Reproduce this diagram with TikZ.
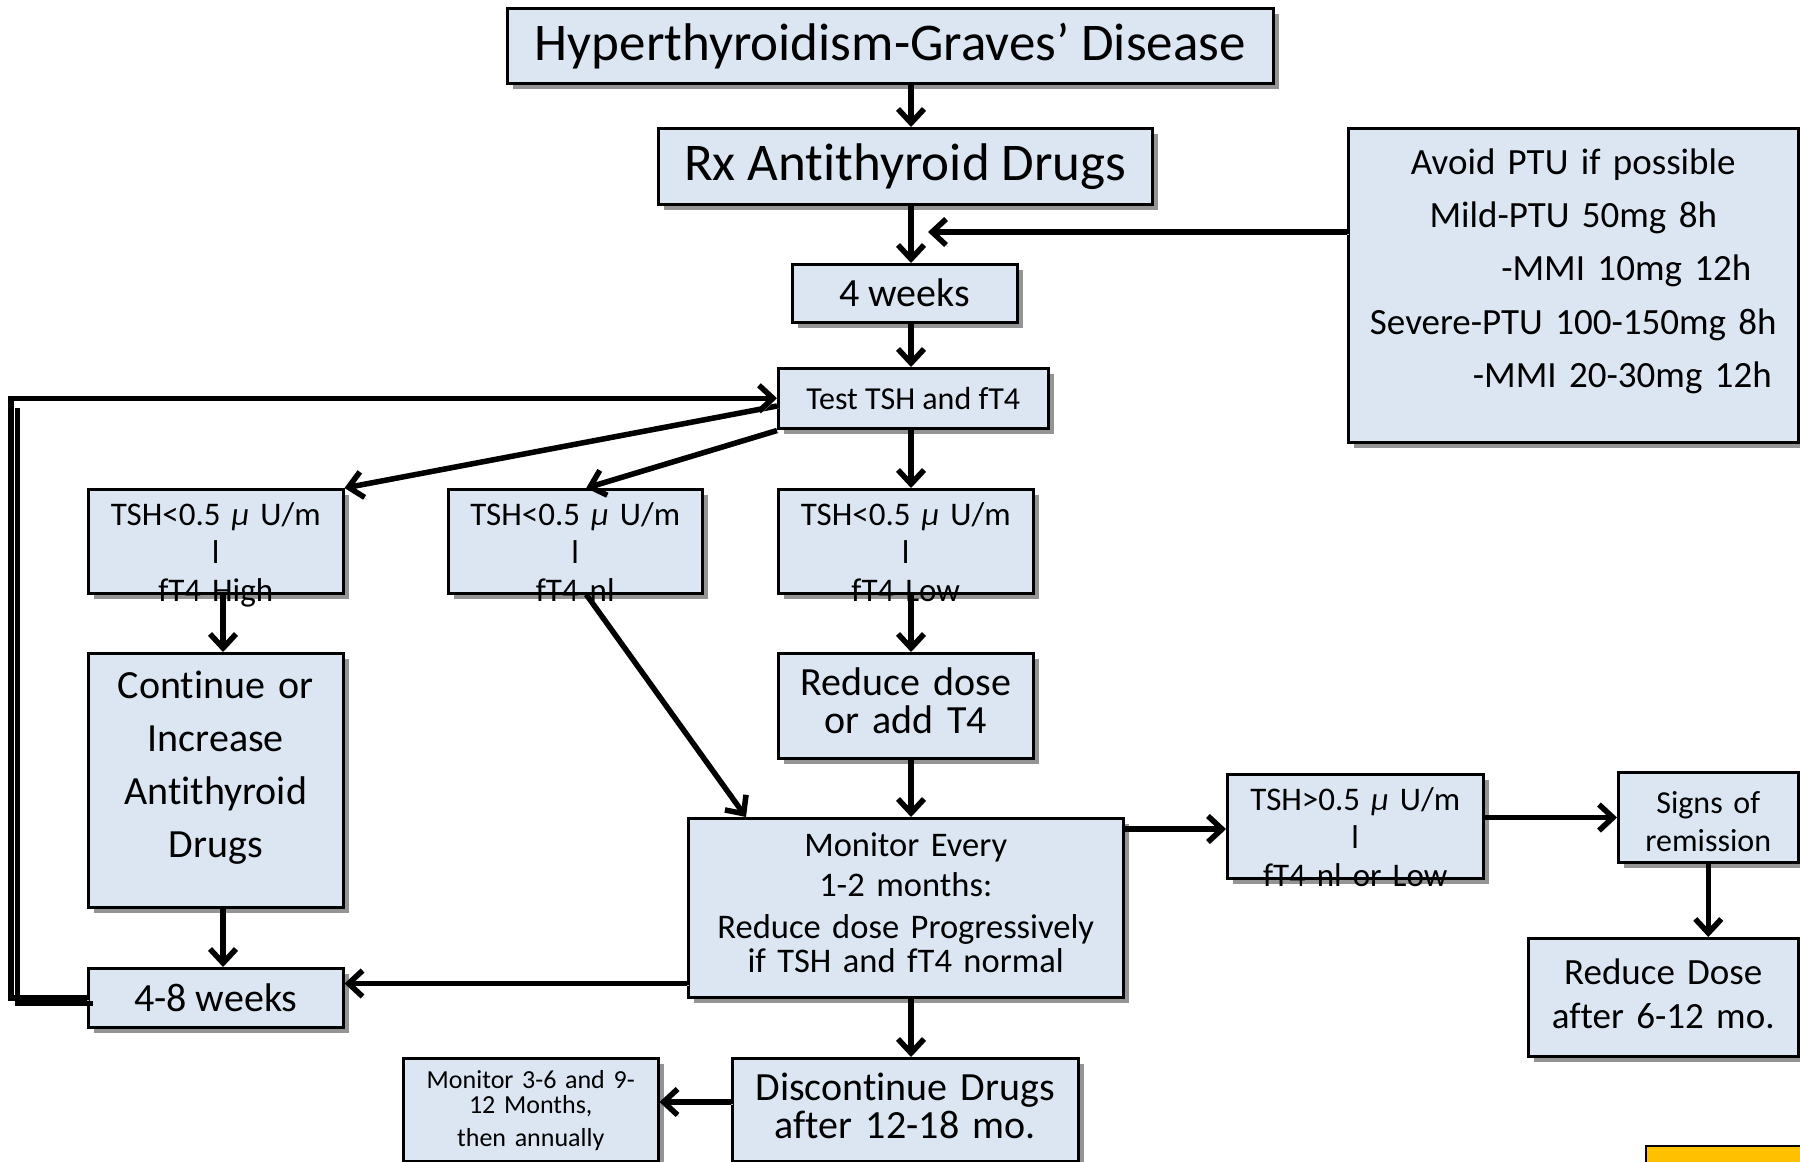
\documentclass[tikz,border=0pt]{standalone}
\usepackage{fontspec}
\setmainfont{Carlito}[Ligatures=CommonOff]
\usetikzlibrary{arrows.meta,shadows,calc}
\definecolor{boxfill}{HTML}{DCE6F2}
\definecolor{yel}{HTML}{FFC000}
\newcommand{\myfs}[2]{\fontsize{#1}{#2}\selectfont}
\begin{document}
\begin{tikzpicture}[x=1pt,y=-1pt,
  bx/.style={draw=black, line width=2.5pt, fill=boxfill, inner sep=0pt, anchor=north west, align=center,
    drop shadow={shadow xshift=6pt, shadow yshift=-6pt, fill=black!42, opacity=1}},
  conn/.style={line width=5.5pt, -{Straight Barb[length=14pt,width=26pt]},
    preaction={draw=black!30, transform canvas={shift={(2pt,-2pt)}}}},
  plainline/.style={line width=5.5pt}
]
\useasboundingbox (0,0) rectangle (1800,1162);

\node[bx, minimum width=766pt, minimum height=75pt, font=\myfs{53}{60}] (title) at (506,7) {Hyperthyroidism-Graves’ Disease};
\node[bx, minimum width=494pt, minimum height=76pt, font=\myfs{53}{60}] (rx) at (657,127) {Rx Antithyroid Drugs};
\node[bx, minimum width=225pt, minimum height=58pt, font=\myfs{40}{46}] (w4) at (791,263) {4 weeks};
\node[bx, minimum width=270pt, minimum height=60pt, font=\myfs{32}{38}] (test) at (777,367) {Test TSH and fT4};
\node[bx, text width=450pt, text height=46pt, text depth=268pt, font=\myfs{37}{53.3}] (avoid) at (1347,127)
  {Avoid PTU if possible\\ Mild-PTU 50mg 8h\\ \hspace*{106pt}-MMI 10mg 12h\\ Severe-PTU 100-150mg 8h\\ \hspace*{98pt}-MMI 20-30mg 12h};

\node[bx, text width=255pt, text height=36pt, text depth=68pt, font=\myfs{33}{38}] (box1) at (87,488)
  {TSH<0.5 \textit{μ} U/m\\ l\\ fT4 High};
\node[bx, text width=254pt, text height=36pt, text depth=68pt, font=\myfs{33}{38}] (box2) at (447,488)
  {TSH<0.5 \textit{μ} U/m\\ l\\ fT4 nl};
\node[bx, text width=255pt, text height=36pt, text depth=68pt, font=\myfs{33}{38}] (box3) at (777,488)
  {TSH<0.5 \textit{μ} U/m\\ l\\ fT4 Low};

\node[bx, text width=255pt, text height=45pt, text depth=209pt, font=\myfs{40}{53}] (cont) at (87,652)
  {Continue or\\ Increase\\ Antithyroid\\ Drugs};
\node[bx, text width=255pt, text height=42pt, text depth=63pt, font=\myfs{40}{38}] (red) at (777,652)
  {Reduce dose\\ or add T4};
\node[bx, text width=435pt, text height=38pt, text depth=141pt, font=\myfs{34.5}{34}] (mon) at (687,817)
  {Monitor Every\\[6pt] 1-2 months:\\[8.5pt] Reduce dose Progressively\\ if TSH and fT4 normal};
\node[bx, minimum width=255pt, minimum height=59pt, font=\myfs{40}{46}] (w48) at (87,967) {4-8 weeks};

\node[bx, text width=256pt, text height=36pt, text depth=68pt, font=\myfs{33}{38}] (tshb) at (1226,773)
  {TSH>0.5 \textit{μ} U/m\\ l\\ fT4 nl or Low};
\node[bx, text width=180pt, text height=41pt, text depth=49pt, font=\myfs{32}{38}] (signs) at (1617,771)
  {Signs of\\ remission};
\node[bx, text width=270pt, text height=46pt, text depth=72pt, font=\myfs{37}{44}] (rd) at (1527,937)
  {Reduce Dose\\ after 6-12 mo.};
\node[bx, text width=346pt, text height=42pt, text depth=61pt, font=\myfs{40}{38}] (disc) at (731,1057)
  {Discontinue Drugs\\ after 12-18 mo.};
\node[bx, text width=255pt, text height=30.5pt, text depth=72.5pt, font=\myfs{26}{25}] (m36) at (402,1057)
  {Monitor 3-6 and 9-\\ 12 Months,\\[7.5pt] then annually};

\draw[line width=2pt, fill=yel] (1646,1146) rectangle (1830,1190);

\coordinate (cx) at (911,0);
\coordinate (lx) at (223,0);
\coordinate (avtip) at (928,232);

\draw[conn] (title.south -| cx) -- (rx.north -| cx);
\draw[conn] (rx.south -| cx) -- (w4.north -| cx);
\draw[conn] (avoid.west |- avtip) -- (avtip);
\draw[conn] (w4.south -| cx) -- (test.north -| cx);
\draw[conn] (test.south -| cx) -- (box3.north -| cx);
\draw[conn] ($(test.north west)+(0,39)$) -- (box1.north east);
\draw[conn] ($(test.south west)+(0,1)$) -- ($(box2.north)+(11,0)$);
\draw[conn] (box3.south -| cx) -- (red.north -| cx);
\draw[conn] (red.south -| cx) -- (mon.north -| cx);
\draw[conn] (mon.south -| cx) -- (disc.north -| cx);
\draw[conn] (box1.south -| lx) -- (cont.north -| lx);
\draw[conn] (cont.south -| lx) -- (w48.north -| lx);
\draw[conn] ($(box2.south)+(11,0)$) -- ($(mon.north west)+(59,0)$);
\draw[conn] ($(mon.south west)+(0,-15)$) coordinate (m48) -- (w48.east |- m48);
\draw[conn] ($(mon.north east)+(0,12)$) coordinate (mt) -- (tshb.west |- mt);
\draw[conn] ($(tshb.north east)+(0,44.5)$) coordinate (ts) -- (signs.west |- ts);
\draw[conn] (signs.south) -- (rd.north -| signs.south);
\draw[conn] ($(disc.north west)+(0,45)$) coordinate (dm) -- (m36.east |- dm);
\draw[conn] (w48.west) -- ++(-76,0) |- (test.west);
\draw[plainline] ([shift={(5.5,5.5)}]w48.west) -- ++(-75,0) -- ++(0,-595);
\end{tikzpicture}
\end{document}
